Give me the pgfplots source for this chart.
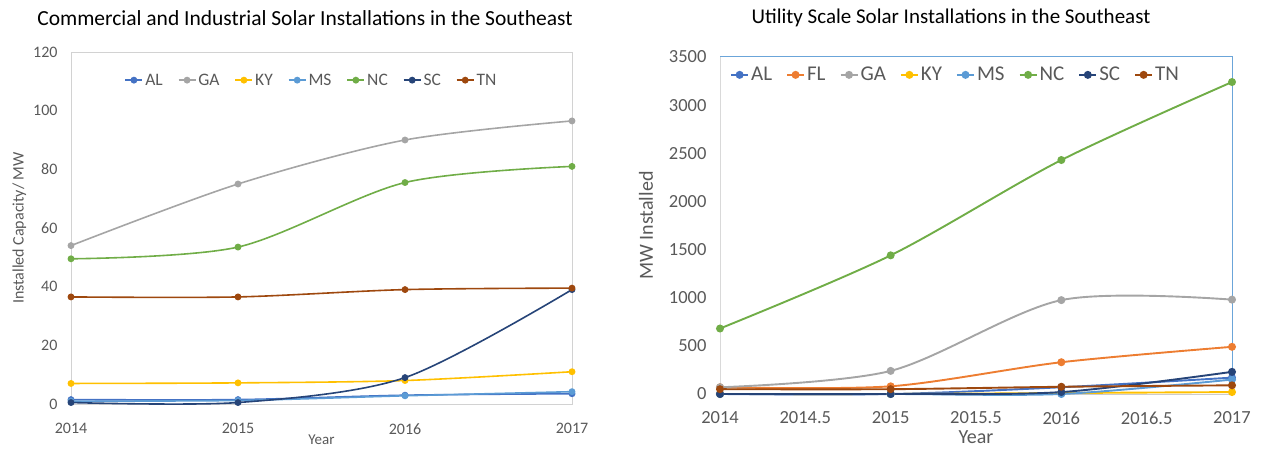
\documentclass[border=0pt]{standalone}
\usepackage{fontspec}
\setmainfont{Carlito}
\usepackage{pgfplots}
\pgfplotsset{compat=1.18}
\definecolor{cAL}{HTML}{4472C4}
\definecolor{cFL}{HTML}{ED7D31}
\definecolor{cGA}{HTML}{A5A5A5}
\definecolor{cKY}{HTML}{FFC000}
\definecolor{cMS}{HTML}{5B9BD5}
\definecolor{cNC}{HTML}{70AD47}
\definecolor{cSC}{HTML}{264478}
\definecolor{cTN}{HTML}{9E480E}
\definecolor{tick}{HTML}{595959}
\pgfplotsset{
  excel/.style={scale only axis,axis line style={draw=none},
    /pgf/number format/assume math mode=true,
    /pgf/number format/1000 sep={},
    tick style={draw=none},
    ticklabel style={text=tick},
    label style={text=tick},
    legend columns=-1,
    legend style={draw=none,fill=none,text=tick},
    legend cell align=left,
    clip=false},
}
\begin{document}
\begin{tikzpicture}
\path[use as bounding box] (0,0) rectangle (1263pt,449pt);
\node[font=\fontsize{21.5}{24}\selectfont] at (305pt,431pt) {Commercial and Industrial Solar Installations in the Southeast};
\node[font=\fontsize{21}{24}\selectfont] at (951pt,431pt) {Utility Scale Solar Installations in the Southeast};

% left: commercial and industrial
\begin{axis}[excel,at={(71pt,45pt)},anchor=south west,width=501pt,height=352pt,
  xmin=2014,xmax=2017,ymin=0,ymax=120,
  xtick={2014,2015,2016,2017},ytick={0,20,...,120},
  ticklabel style={font=\fontsize{16}{18}\selectfont},
  xticklabel style={yshift=-16pt},
  yticklabel style={xshift=-10pt},
  xlabel={Year},xlabel style={font=\fontsize{15}{17}\selectfont,at={(rel axis cs:0.5,0)},anchor=center,yshift=-36pt},
  ylabel={Installed Capacity/ MW},ylabel style={font=\fontsize{16}{18}\selectfont,yshift=0pt},
  legend style={font=\fontsize{17.5}{20}\selectfont,at={(0.48,0.92)},anchor=center,
    /tikz/every even column/.append style={column sep=13pt}},
  every axis plot/.append style={line width=1.6pt,smooth,mark=*,mark size=2.6pt}]
\draw[gray!35,line width=0.8pt] (rel axis cs:0,0) rectangle (rel axis cs:1,1);
\addplot[cAL] coordinates {(2014,1.5)(2015,1.5)(2016,3.0)(2017,3.5)};
\addlegendentry{AL}
\addplot[cGA] coordinates {(2014,54)(2015,75)(2016,90)(2017,96.5)};
\addlegendentry{GA}
\addplot[cKY] coordinates {(2014,7)(2015,7.2)(2016,8)(2017,11)};
\addlegendentry{KY}
\addplot[cMS] coordinates {(2014,1)(2015,1.2)(2016,2.8)(2017,4.2)};
\addlegendentry{MS}
\addplot[cNC] coordinates {(2014,49.5)(2015,53.5)(2016,75.5)(2017,81)};
\addlegendentry{NC}
\addplot[cSC] coordinates {(2014,0.5)(2015,0.5)(2016,9)(2017,39)};
\addlegendentry{SC}
\addplot[cTN] coordinates {(2014,36.5)(2015,36.5)(2016,39)(2017,39.5)};
\addlegendentry{TN}
\end{axis}

% right: utility scale
\begin{axis}[excel,at={(720pt,55pt)},anchor=south west,width=512pt,height=337pt,
  xmin=2014,xmax=2017,ymin=0,ymax=3500,
  xtick={2014,2014.5,...,2017},ytick={0,500,...,3500},
  xticklabel style={/pgf/number format/fixed},
  ticklabel style={font=\fontsize{18.5}{21}\selectfont},
  xticklabel style={yshift=-14pt},
  yticklabel style={xshift=-10pt},
  xlabel={Year},xlabel style={font=\fontsize{20}{22}\selectfont,at={(rel axis cs:0.5,0)},anchor=center,yshift=-43pt},
  ylabel={MW Installed},ylabel style={font=\fontsize{20}{22}\selectfont,yshift=9pt},
  legend style={font=\fontsize{21}{23}\selectfont,at={(0.46,0.947)},anchor=center,
    /tikz/every even column/.append style={column sep=12pt}},
  every axis plot/.append style={line width=1.9pt,smooth,mark=*,mark size=3pt}]
\draw[gray!30,line width=0.8pt] (rel axis cs:0,0) -- (rel axis cs:0,1);
\draw[gray!40,line width=0.8pt] (rel axis cs:0,0) -- (rel axis cs:1,0);
\draw[cMS!90,line width=1pt] (rel axis cs:0,1) -- (rel axis cs:1,1) -- (rel axis cs:1,0);
\addplot[cAL] coordinates {(2014,0)(2015,0)(2016,70)(2017,170)};
\addlegendentry{AL}
\addplot[cFL] coordinates {(2014,70)(2015,80)(2016,330)(2017,490)};
\addlegendentry{FL}
\addplot[cGA] coordinates {(2014,70)(2015,240)(2016,975)(2017,980)};
\addlegendentry{GA}
\addplot[cKY] coordinates {(2014,0)(2015,0)(2016,10)(2017,20)};
\addlegendentry{KY}
\addplot[cMS] coordinates {(2014,0)(2015,0)(2016,0)(2017,150)};
\addlegendentry{MS}
\addplot[cNC] coordinates {(2014,680)(2015,1440)(2016,2430)(2017,3240)};
\addlegendentry{NC}
\addplot[cSC] coordinates {(2014,0)(2015,0)(2016,20)(2017,230)};
\addlegendentry{SC}
\addplot[cTN] coordinates {(2014,50)(2015,50)(2016,75)(2017,90)};
\addlegendentry{TN}
\end{axis}
\end{tikzpicture}
\end{document}
